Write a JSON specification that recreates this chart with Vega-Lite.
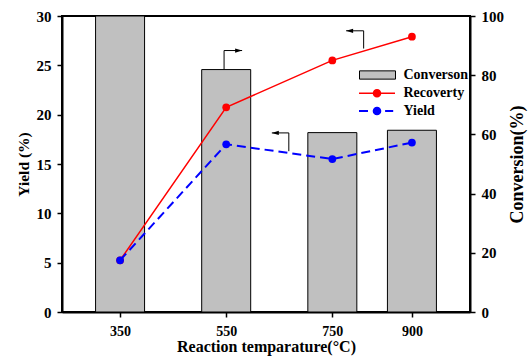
{
  "$schema": "https://vega.github.io/schema/vega-lite/v6.json",
  "autosize": {"type": "none"},
  "padding": {"left": 62, "top": 16, "right": 58, "bottom": 52},
  "width": 408,
  "height": 296,
  "background": "white",
  "config": {
    "view": {"stroke": "black", "strokeWidth": 2},
    "font": "Liberation Serif",
    "axis": {
      "labelFont": "Liberation Serif", "labelFontWeight": "bold", "labelColor": "black", "labelFontSize": 15,
      "titleFont": "Liberation Serif", "titleFontWeight": "bold", "titleColor": "black",
      "domainColor": "black", "domainWidth": 2, "tickColor": "black", "tickWidth": 1.5, "tickSize": 5,
      "grid": false, "labelPadding": 5
    },
    "legend": {
      "labelFont": "Liberation Serif", "labelFontWeight": "bold", "labelFontSize": 14, "labelColor": "black"
    }
  },
  "datasets": {
    "main": [
      {"T": 350, "series": "Converson", "value": 100},
      {"T": 550, "series": "Converson", "value": 81.9},
      {"T": 750, "series": "Converson", "value": 60.6},
      {"T": 900, "series": "Converson", "value": 61.4},
      {"T": 350, "series": "Recoverty", "value": 5.24},
      {"T": 550, "series": "Recoverty", "value": 20.75},
      {"T": 750, "series": "Recoverty", "value": 25.5},
      {"T": 900, "series": "Recoverty", "value": 27.9},
      {"T": 350, "series": "Yield", "value": 5.24},
      {"T": 550, "series": "Yield", "value": 17.0},
      {"T": 750, "series": "Yield", "value": 15.5},
      {"T": 900, "series": "Yield", "value": 17.17}
    ],
    "arrows": [
      {"T": 546, "T2": 580, "yStart": 24.6, "yBend": 26.5, "dir": "right"},
      {"T": 809, "T2": 776, "yStart": 26.7, "yBend": 28.5, "dir": "left"},
      {"T": 668, "T2": 636, "yStart": 16.3, "yBend": 18.15, "dir": "left"}
    ]
  },
  "data": {"name": "main"},
  "resolve": {"scale": {"y": "independent", "color": "independent"}},
  "layer": [
    {
      "transform": [{"filter": "datum.series == 'Converson'"}],
      "mark": {"type": "bar", "orient": "vertical", "size": 49, "stroke": "black", "strokeWidth": 1, "opacity": 1},
      "encoding": {
        "x": {
          "field": "T", "type": "quantitative",
          "scale": {"domain": [250, 1000], "nice": false, "zero": false},
          "axis": {"values": [350, 550, 750, 900], "title": "Reaction temparature(°C)", "titleFontSize": 16, "labelFontSize": 14, "labelPadding": 7, "titlePadding": 0}
        },
        "y": {
          "field": "value", "type": "quantitative",
          "scale": {"domain": [0, 100], "nice": false},
          "axis": {"orient": "right", "values": [0, 20, 40, 60, 80, 100], "title": "Conversion(%)", "titleFontSize": 18, "titleAngle": 270, "titleBaseline": "top", "labelPadding": 6, "titlePadding": 5}
        },
        "color": {
          "field": "series", "type": "nominal",
          "scale": {"domain": ["Converson"], "range": ["#c0c0c0"]},
          "legend": {
            "title": null, "orient": "none", "legendX": 297, "legendY": 52, "padding": 0,
            "symbolType": "M-1,-0.23H1V0.23H-1Z", "symbolSize": 1296,
            "symbolStrokeColor": "black", "symbolStrokeWidth": 1, "symbolOpacity": 1,
            "clipHeight": 14, "labelOffset": 7.5
          }
        }
      }
    },
    {
      "resolve": {"scale": {"color": "independent"}},
      "encoding": {
        "x": {
          "field": "T", "type": "quantitative",
          "scale": {"domain": [250, 1000], "nice": false, "zero": false},
          "axis": {"values": [350, 550, 750, 900], "title": "Reaction temparature(°C)", "titleFontSize": 16, "labelFontSize": 14, "labelPadding": 7, "titlePadding": 0}
        },
        "y": {
          "field": "value", "type": "quantitative",
          "scale": {"domain": [0, 30], "nice": false},
          "axis": {"orient": "left", "values": [0, 5, 10, 15, 20, 25, 30], "title": "Yield (%)", "titleFontSize": 15.5, "labelPadding": 6, "titlePadding": 5}
        }
      },
      "layer": [
        {
          "transform": [{"filter": "datum.series == 'Recoverty'"}],
          "layer": [
            {
              "mark": {"type": "line", "strokeWidth": 1.5},
              "encoding": {
                "color": {
                  "field": "series", "type": "nominal",
                  "scale": {"domain": ["Recoverty"], "range": ["#ff0000"]},
                  "legend": {
                    "title": null, "orient": "none", "legendX": 297, "legendY": 70.3, "padding": 0,
                    "symbolType": "M-1,-0.045H-0.2V0.045H-1Z M0.2,-0.045H1V0.045H0.2Z M0.24,0A0.24,0.24 0 1,1 -0.24,0A0.24,0.24 0 1,1 0.24,0Z",
                    "symbolSize": 1296, "symbolStrokeWidth": 0, "symbolOpacity": 1, "symbolFillColor": "#ff0000",
                    "clipHeight": 14, "labelOffset": 8.5
                  }
                }
              }
            },
            {
              "mark": {"type": "point", "filled": true, "size": 60, "opacity": 1, "shape": "circle"},
              "encoding": {
                "color": {
                  "field": "series", "type": "nominal",
                  "scale": {"domain": ["Recoverty"], "range": ["#ff0000"]},
                  "legend": {
                    "title": null, "orient": "none", "legendX": 297, "legendY": 70.3, "padding": 0,
                    "symbolType": "M-1,-0.045H-0.2V0.045H-1Z M0.2,-0.045H1V0.045H0.2Z M0.24,0A0.24,0.24 0 1,1 -0.24,0A0.24,0.24 0 1,1 0.24,0Z",
                    "symbolSize": 1296, "symbolStrokeWidth": 0, "symbolOpacity": 1, "symbolFillColor": "#ff0000",
                    "clipHeight": 14, "labelOffset": 8.5
                  }
                }
              }
            }
          ]
        },
        {
          "transform": [{"filter": "datum.series == 'Yield'"}],
          "layer": [
            {
              "mark": {"type": "line", "strokeWidth": 2, "strokeDash": [9, 5]},
              "encoding": {
                "color": {
                  "field": "series", "type": "nominal",
                  "scale": {"domain": ["Yield"], "range": ["#0000ff"]},
                  "legend": {
                    "title": null, "orient": "none", "legendX": 297, "legendY": 88, "padding": 0,
                    "symbolType": "M-1,-0.055H-0.5V0.055H-1Z M0.45,-0.055H0.9V0.055H0.45Z M0.24,0A0.24,0.24 0 1,1 -0.24,0A0.24,0.24 0 1,1 0.24,0Z",
                    "symbolSize": 1296, "symbolStrokeWidth": 0, "symbolOpacity": 1, "symbolFillColor": "#0000ff",
                    "clipHeight": 14, "labelOffset": 8.5
                  }
                }
              }
            },
            {
              "mark": {"type": "point", "filled": true, "size": 60, "opacity": 1, "shape": "circle"},
              "encoding": {
                "color": {
                  "field": "series", "type": "nominal",
                  "scale": {"domain": ["Yield"], "range": ["#0000ff"]},
                  "legend": {
                    "title": null, "orient": "none", "legendX": 297, "legendY": 88, "padding": 0,
                    "symbolType": "M-1,-0.055H-0.5V0.055H-1Z M0.45,-0.055H0.9V0.055H0.45Z M0.24,0A0.24,0.24 0 1,1 -0.24,0A0.24,0.24 0 1,1 0.24,0Z",
                    "symbolSize": 1296, "symbolStrokeWidth": 0, "symbolOpacity": 1, "symbolFillColor": "#0000ff",
                    "clipHeight": 14, "labelOffset": 8.5
                  }
                }
              }
            }
          ]
        },
        {
          "data": {"name": "arrows"},
          "mark": {"type": "rule", "color": "black", "strokeWidth": 1},
          "encoding": {
            "y": {"field": "yStart", "type": "quantitative", "scale": {"domain": [0, 30], "nice": false}, "axis": {"orient": "left", "values": [0, 5, 10, 15, 20, 25, 30], "title": "Yield (%)", "titleFontSize": 15.5, "labelPadding": 6, "titlePadding": 5}},
            "y2": {"field": "yBend"}
          }
        },
        {
          "data": {"name": "arrows"},
          "mark": {"type": "rule", "color": "black", "strokeWidth": 1},
          "encoding": {
            "x2": {"field": "T2"},
            "y": {"field": "yBend", "type": "quantitative", "scale": {"domain": [0, 30], "nice": false}, "axis": {"orient": "left", "values": [0, 5, 10, 15, 20, 25, 30], "title": "Yield (%)", "titleFontSize": 15.5, "labelPadding": 6, "titlePadding": 5}}
          }
        },
        {
          "data": {"name": "arrows"},
          "mark": {"type": "point", "filled": true, "color": "black", "opacity": 1, "size": 196, "strokeWidth": 0},
          "encoding": {
            "x": {"field": "T2", "type": "quantitative", "scale": {"domain": [250, 1000], "nice": false, "zero": false}, "axis": {"values": [350, 550, 750, 900], "title": "Reaction temparature(°C)", "titleFontSize": 16, "labelFontSize": 14, "labelPadding": 7, "titlePadding": 0}},
            "y": {"field": "yBend", "type": "quantitative", "scale": {"domain": [0, 30], "nice": false}, "axis": {"orient": "left", "values": [0, 5, 10, 15, 20, 25, 30], "title": "Yield (%)", "titleFontSize": 15.5, "labelPadding": 6, "titlePadding": 5}},
            "shape": {
              "field": "dir", "type": "nominal",
              "scale": {"domain": ["right", "left"], "range": ["M0,0L-1,-0.3L-1,0.3Z", "M0,0L1,-0.3L1,0.3Z"]},
              "legend": null
            }
          }
        }
      ]
    }
  ]
}
